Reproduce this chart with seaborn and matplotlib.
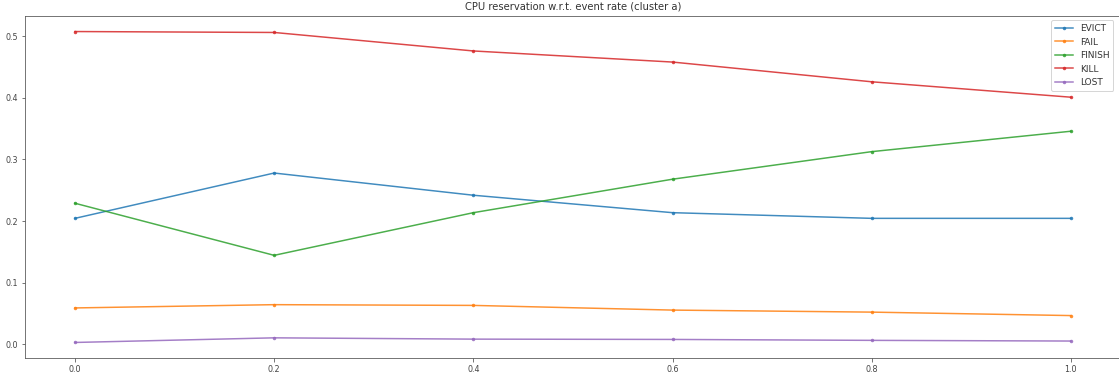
import matplotlib
matplotlib.use("Agg")
import matplotlib.pyplot as plt
import seaborn as sns
import pandas as pd

rates = [0.0, 0.2, 0.4, 0.6, 0.8, 1.0]
evict = [0.2045, 0.278, 0.242, 0.2137, 0.2045, 0.2045]
fail = [0.0592, 0.0645, 0.0633, 0.0557, 0.0524, 0.0468]
finish = [0.229, 0.1445, 0.2137, 0.268, 0.3127, 0.3458]
kill = [0.5075, 0.506, 0.476, 0.458, 0.426, 0.401]
lost = [0.0032, 0.0107, 0.0086, 0.0081, 0.0066, 0.0055]
events = ["EVICT", "FAIL", "FINISH", "KILL", "LOST"]

series = [evict, fail, finish, kill, lost]
df = pd.DataFrame(
    [(r, v, name) for name, vals in zip(events, series) for r, v in zip(rates, vals)],
    columns=["rate", "cpu", "event"],
)

plt.rcParams.update({
    "axes.edgecolor": "#555555",
    "xtick.color": "#555555",
    "ytick.color": "#555555",
    "xtick.labelcolor": "#444444",
    "ytick.labelcolor": "#444444",
    "legend.labelcolor": "#333333",
    "font.size": 9,
})

fig = plt.figure(figsize=(1119 / 72, 379 / 72), dpi=72)
ax = fig.add_axes([0.0225, 0.0554, 0.979, 0.9024])
sns.lineplot(data=df, x="rate", y="cpu", hue="event", hue_order=events,
             palette="tab10", marker=".", markersize=7, markeredgewidth=0,
             linewidth=1.5, alpha=0.85, ax=ax)
ax.set_xlabel("")
ax.set_ylabel("")
ax.set_title("CPU reservation w.r.t. event rate (cluster a)", fontsize=10, color="#333333")
ax.set_xticks(rates)
ax.set_yticks([0.0, 0.1, 0.2, 0.3, 0.4, 0.5])
ax.tick_params(labelsize=8)
leg = ax.legend(loc="upper right", bbox_to_anchor=(0.9975, 1.0), fontsize=9, frameon=True)
leg.set_title(None)
fig.savefig("out.png", dpi=72)
